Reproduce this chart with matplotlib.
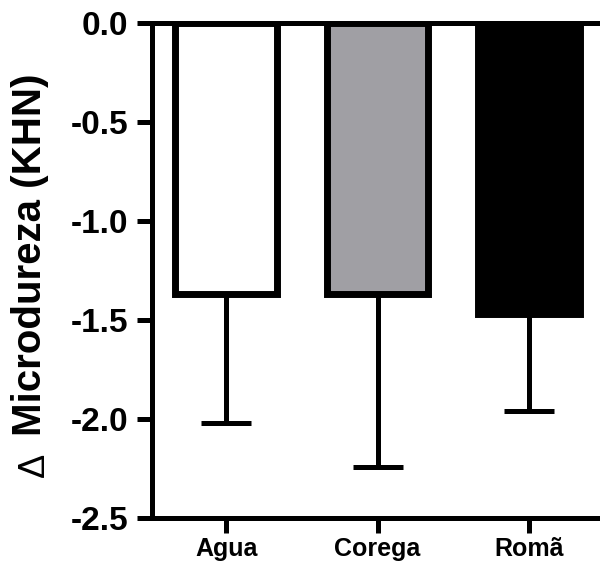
import matplotlib
matplotlib.use("Agg")
import matplotlib.pyplot as plt
import numpy as np

categories = ["Agua", "Corega", "Romã"]
means = [-1.37, -1.37, -1.47]
errors = [0.65, 0.87, 0.49]
bar_colors = ["#FFFFFF", "#A09FA4", "#000000"]
yticks = [0.0, -0.5, -1.0, -1.5, -2.0, -2.5]

plt.rcParams['font.family'] = ['Liberation Sans', 'DejaVu Sans']

fig = plt.figure(figsize=(6.0, 5.69), dpi=100)
ax = fig.add_axes([0.2533, 0.0896, 0.7467, 0.87])

x = np.arange(len(categories))
lw = 3.6
ax.bar(x, means, width=0.67, color=bar_colors, edgecolor="black",
       linewidth=5.0, zorder=2)
ax.errorbar(x, means, yerr=[errors, [0] * len(errors)], fmt="none",
            ecolor="black", elinewidth=lw, capsize=18, capthick=lw, zorder=1)

ax.set_ylim(-2.5, 0.0)
ax.set_xlim(-0.49, 2.47)
ax.set_yticks(yticks)
ax.set_yticklabels([f"{v:.1f}" for v in yticks], fontsize=24, fontweight="bold")
ax.set_xticks(x)
ax.set_xticklabels(categories, fontsize=18, fontweight="bold")

for s in ["left", "bottom", "top"]:
    ax.spines[s].set_linewidth(lw)
ax.spines["right"].set_visible(False)
ax.tick_params(axis="both", length=11, width=lw, color="black", direction="out")
ax.tick_params(axis="y", pad=6)
ax.tick_params(axis="x", pad=3)

fig.text(0.05, 0.552, "Microdureza (KHN)", rotation=90, fontsize=29,
         fontweight="bold", ha="center", va="center")
fig.text(0.058, 0.183, "Δ", rotation=90, fontsize=26,
         fontweight="normal", ha="center", va="center")

fig.savefig("out.png", dpi=100)
